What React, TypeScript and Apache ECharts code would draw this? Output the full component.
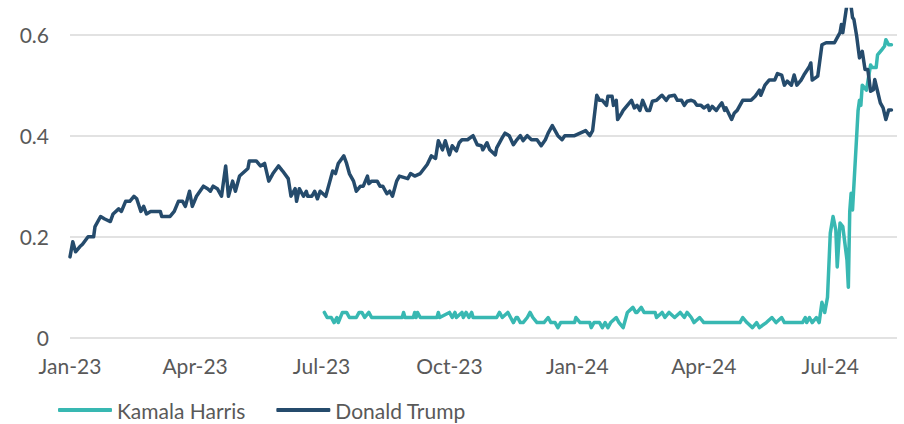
import React, { useEffect, useRef } from "react";
import * as echarts from "echarts";

// x values are days since 1 Jan 2023
const xTickDays = [0, 90, 181, 273, 365, 456, 547];
const xTickLabels = ["Jan-23", "Apr-23", "Jul-23", "Oct-23", "Jan-24", "Apr-24", "Jul-24"];

const harrisDays = [183, 185, 188, 190, 192, 193, 196, 199, 201, 206, 208, 210, 212, 215, 217, 239, 240, 241, 247, 248, 249, 250, 252, 264, 265, 266, 273, 275, 277, 278, 282, 283, 285, 287, 289, 290, 307, 309, 311, 315, 317, 319, 321, 322, 324, 326, 329, 331, 333, 336, 341, 344, 346, 349, 351, 353, 363, 364, 367, 374, 375, 377, 381, 383, 385, 387, 389, 393, 395, 398, 401, 405, 407, 408, 411, 413, 417, 421, 422, 426, 428, 431, 435, 439, 442, 444, 447, 449, 453, 456, 482, 484, 487, 491, 494, 496, 501, 505, 508, 512, 514, 527, 529, 530, 532, 534, 537, 539, 541, 543, 545, 547, 549, 551, 552, 554, 556, 559, 560, 561, 562, 563, 566, 567, 568, 569, 570, 573, 576, 577, 580, 581, 584, 586, 587, 589, 591];
const harrisValues = [0.05, 0.04, 0.04, 0.03, 0.04, 0.03, 0.05, 0.05, 0.04, 0.04, 0.05, 0.05, 0.04, 0.05, 0.04, 0.04, 0.05, 0.04, 0.04, 0.05, 0.04, 0.05, 0.04, 0.04, 0.05, 0.04, 0.05, 0.04, 0.05, 0.04, 0.05, 0.04, 0.05, 0.04, 0.05, 0.04, 0.04, 0.05, 0.04, 0.05, 0.04, 0.03, 0.04, 0.04, 0.03, 0.03, 0.04, 0.05, 0.04, 0.03, 0.03, 0.04, 0.03, 0.03, 0.02, 0.03, 0.03, 0.04, 0.03, 0.03, 0.02, 0.03, 0.03, 0.02, 0.03, 0.02, 0.03, 0.04, 0.03, 0.02, 0.05, 0.06, 0.05, 0.05, 0.06, 0.05, 0.05, 0.05, 0.04, 0.05, 0.04, 0.05, 0.04, 0.05, 0.04, 0.05, 0.04, 0.03, 0.04, 0.03, 0.03, 0.04, 0.03, 0.02, 0.03, 0.02, 0.03, 0.04, 0.03, 0.04, 0.03, 0.03, 0.04, 0.03, 0.04, 0.03, 0.04, 0.03, 0.07, 0.05, 0.08, 0.207, 0.24, 0.213, 0.14, 0.227, 0.22, 0.154, 0.1, 0.25, 0.286, 0.253, 0.4, 0.45, 0.47, 0.46, 0.5, 0.49, 0.54, 0.535, 0.535, 0.56, 0.57, 0.577, 0.59, 0.58, 0.58];

const trumpDays = [0, 2, 4, 7, 9, 13, 17, 18, 22, 25, 29, 31, 35, 37, 40, 43, 46, 48, 51, 53, 55, 58, 65, 66, 72, 75, 78, 81, 83, 86, 88, 91, 96, 99, 101, 103, 106, 109, 112, 114, 117, 119, 122, 126, 128, 129, 134, 137, 140, 143, 146, 150, 153, 157, 159, 162, 163, 165, 168, 170, 171, 174, 176, 178, 180, 182, 184, 187, 189, 191, 193, 197, 199, 201, 204, 206, 209, 211, 214, 215, 217, 221, 223, 225, 228, 230, 232, 235, 237, 243, 245, 248, 252, 257, 260, 263, 265, 268, 270, 273, 275, 278, 280, 282, 286, 290, 293, 296, 297, 300, 302, 306, 307, 311, 313, 316, 319, 321, 324, 326, 329, 332, 336, 339, 342, 344, 347, 349, 351, 354, 356, 363, 367, 371, 374, 376, 379, 381, 383, 386, 387, 390, 391, 393, 394, 397, 398, 401, 404, 406, 408, 410, 412, 415, 417, 419, 422, 425, 426, 429, 431, 435, 437, 440, 442, 444, 447, 449, 451, 454, 456, 459, 460, 462, 465, 467, 469, 471, 472, 476, 478, 480, 484, 490, 493, 496, 497, 500, 503, 507, 509, 512, 514, 516, 519, 521, 523, 526, 528, 532, 533, 534, 538, 541, 544, 550, 552, 554, 555, 556, 559, 560, 561, 562, 563, 564, 566, 568, 570, 572, 574, 576, 578, 579, 581, 583, 585, 587, 589, 591];
const trumpValues = [0.16, 0.19, 0.17, 0.18, 0.185, 0.2, 0.2, 0.22, 0.24, 0.235, 0.23, 0.245, 0.255, 0.25, 0.27, 0.27, 0.28, 0.275, 0.25, 0.26, 0.245, 0.25, 0.25, 0.24, 0.24, 0.25, 0.27, 0.27, 0.26, 0.29, 0.26, 0.28, 0.3, 0.295, 0.29, 0.3, 0.295, 0.28, 0.34, 0.28, 0.31, 0.29, 0.32, 0.33, 0.335, 0.35, 0.35, 0.34, 0.345, 0.31, 0.325, 0.34, 0.33, 0.315, 0.28, 0.295, 0.27, 0.295, 0.28, 0.29, 0.28, 0.28, 0.29, 0.275, 0.29, 0.285, 0.28, 0.31, 0.33, 0.325, 0.345, 0.36, 0.345, 0.325, 0.31, 0.29, 0.3, 0.3, 0.32, 0.305, 0.31, 0.31, 0.3, 0.3, 0.285, 0.29, 0.28, 0.31, 0.32, 0.315, 0.325, 0.32, 0.325, 0.343, 0.36, 0.355, 0.39, 0.372, 0.39, 0.362, 0.38, 0.37, 0.386, 0.392, 0.392, 0.4, 0.382, 0.38, 0.372, 0.386, 0.372, 0.362, 0.376, 0.396, 0.405, 0.4, 0.382, 0.39, 0.4, 0.39, 0.4, 0.392, 0.392, 0.38, 0.392, 0.405, 0.42, 0.41, 0.4, 0.392, 0.4, 0.4, 0.405, 0.41, 0.4, 0.41, 0.48, 0.47, 0.47, 0.46, 0.478, 0.478, 0.46, 0.47, 0.432, 0.445, 0.45, 0.46, 0.47, 0.455, 0.46, 0.45, 0.47, 0.45, 0.45, 0.468, 0.47, 0.478, 0.48, 0.47, 0.478, 0.48, 0.47, 0.47, 0.46, 0.468, 0.47, 0.468, 0.46, 0.46, 0.455, 0.46, 0.45, 0.458, 0.45, 0.458, 0.465, 0.45, 0.455, 0.432, 0.445, 0.45, 0.47, 0.47, 0.478, 0.49, 0.48, 0.5, 0.51, 0.51, 0.523, 0.52, 0.5, 0.508, 0.5, 0.52, 0.5, 0.51, 0.52, 0.537, 0.544, 0.51, 0.518, 0.58, 0.584, 0.584, 0.594, 0.604, 0.62, 0.604, 0.66, 0.69, 0.69, 0.655, 0.634, 0.63, 0.597, 0.554, 0.567, 0.531, 0.531, 0.488, 0.491, 0.511, 0.488, 0.465, 0.455, 0.432, 0.451, 0.451];

const FONT = "Lato, 'Open Sans', sans-serif";
const TEXT_COLOR = "#595959";
const HARRIS_COLOR = "#38b8b2";
const TRUMP_COLOR = "#254b6c";

function zip(xs: number[], ys: number[]) {
  return xs.map((x, i) => [x, ys[i]]);
}

export default function App() {
  const ref = useRef<HTMLDivElement>(null);

  useEffect(() => {
    if (!ref.current) return;
    const chart = echarts.init(ref.current, undefined, { renderer: "svg" });
    chart.setOption({
      animation: false,
      backgroundColor: "#ffffff",
      grid: {
        left: 70,
        right: 7,
        top: 9.4,
        bottom: 86.3,
        containLabel: false,
        outerBoundsMode: "none",
      },
      legend: {
        left: 58,
        top: 399,
        padding: 0,
        icon: "roundRect",
        itemWidth: 54,
        itemHeight: 4,
        itemGap: 31,
        textStyle: { fontFamily: FONT, fontSize: 21, lineHeight: 22, color: TEXT_COLOR },
        data: ["Kamala Harris", "Donald Trump"],
        selectedMode: false,
      },
      xAxis: {
        type: "value",
        min: 0,
        max: 595,
        axisLine: { show: false },
        axisTick: { show: false },
        splitLine: { show: false },
        axisLabel: {
          customValues: xTickDays,
          formatter: (v: number) => {
            const i = xTickDays.indexOf(Math.round(v));
            return i >= 0 ? xTickLabels[i] : "";
          },
          margin: 17,
          fontFamily: FONT,
          fontSize: 21,
          color: TEXT_COLOR,
        },
      },
      yAxis: {
        type: "value",
        min: 0,
        max: 0.65,
        interval: 0.2,
        axisLine: { show: false },
        axisTick: { show: false },
        axisLabel: {
          showMaxLabel: false,
          margin: 21,
          fontFamily: FONT,
          fontSize: 21,
          color: TEXT_COLOR,
        },
        splitLine: {
          showMaxLine: false,
          lineStyle: { color: "#d9d9d9", width: 1.5 },
        },
      },
      series: [
        {
          name: "Kamala Harris",
          type: "line",
          data: zip(harrisDays, harrisValues),
          showSymbol: false,
          symbol: "none",
          color: HARRIS_COLOR,
          lineStyle: { width: 3.5, color: HARRIS_COLOR, join: "round", cap: "round" },
          silent: true,
          clip: true,
        },
        {
          name: "Donald Trump",
          type: "line",
          data: zip(trumpDays, trumpValues),
          showSymbol: false,
          symbol: "none",
          color: TRUMP_COLOR,
          lineStyle: { width: 3.5, color: TRUMP_COLOR, join: "round", cap: "round" },
          silent: true,
          clip: true,
        },
      ],
    });
    return () => chart.dispose();
  }, []);

  return (
    <div
      ref={ref}
      style={{ position: "fixed", left: 0, top: 0, width: 904, height: 424, background: "#fff" }}
    />
  );
}
